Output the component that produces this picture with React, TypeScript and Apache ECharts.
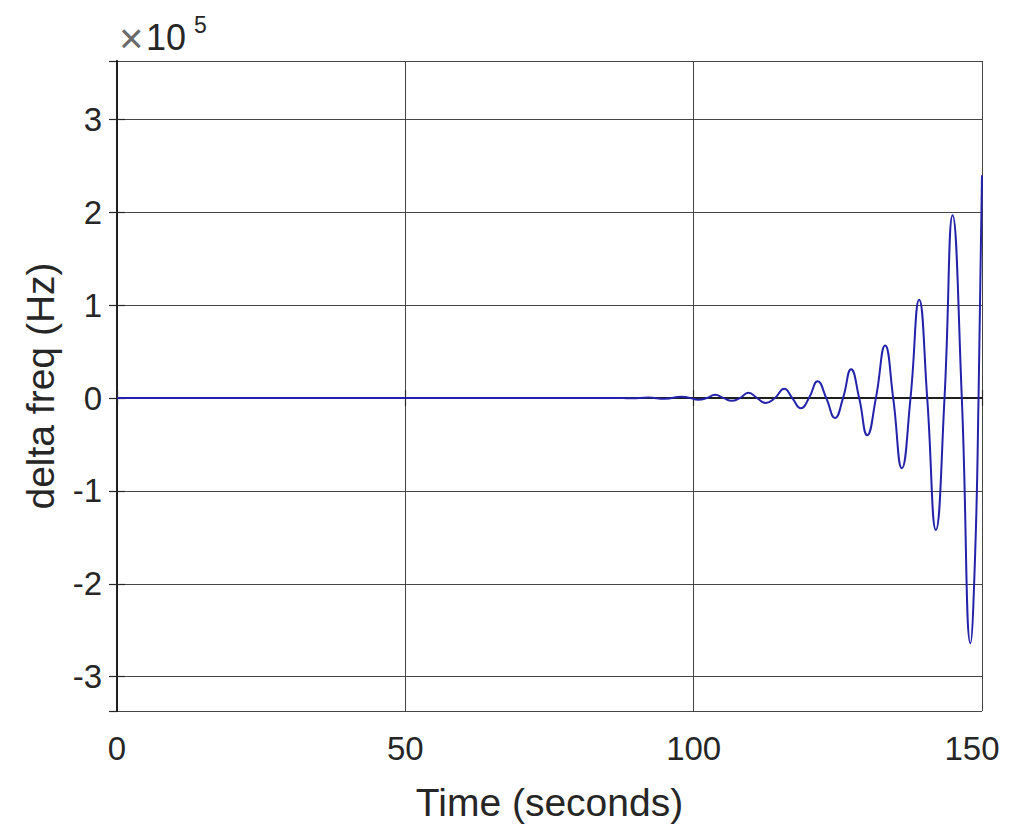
import React, { useEffect, useRef } from "react";
import * as echarts from "echarts";

// Time (seconds) at readable extrema / zero crossings of the trace
const TIME = [
  0, 80, 86.3, 89.2, 92.1, 95.0, 97.9, 99.4, 100.8, 102.3, 103.7, 105.2, 106.6, 108.0,
  109.5, 111.0, 112.5, 114.1, 115.7, 117.1, 118.6, 120.0, 121.5, 123.0, 124.5, 125.9,
  127.3, 128.7, 130.1, 131.6, 133.2, 134.6, 136.1, 137.6, 139.1, 140.5, 142.0, 143.5,
  144.9, 146.5, 148.0, 148.8, 149.4, 150.0,
];

// delta freq (Hz)
const DELTA_HZ = [
  0, 0, 200, -300, 500, -800, 1500, 0, -1800, 0, 3500, 0, -3000, 0,
  5700, 0, -5200, 0, 10000, 0, -11000, 0, 18000, 0, -21500, 0,
  31000, 0, -40000, 0, 56500, 0, -75500, 0, 106000, 0, -142000, 0,
  197000, 0, -264000, -170000, 0, 240000,
];

const X_TICKS = [0, 50, 100, 150];
const Y_RANGE = [-337000, 363000];
const Y_EXPONENT = 5;

const FONT = "'Liberation Sans', Arial, Helvetica, sans-serif";
const TEXT_COLOR = "#262626";

export default function App() {
  const ref = useRef<HTMLDivElement>(null);

  useEffect(() => {
    if (!ref.current) return;
    const chart = echarts.init(ref.current, undefined, { renderer: "svg" });
    const scale = Math.pow(10, Y_EXPONENT);
    const data = TIME.map((t, i) => [t, DELTA_HZ[i]]);
    const lastX = X_TICKS[X_TICKS.length - 1];

    const boxLine = { show: true, lineStyle: { color: "#1e1e1e", width: 1.8 } };
    const grid = { show: true, lineStyle: { color: "#454545", width: 1 } };
    const tick = { show: true, inside: true, length: 8, lineStyle: { color: "#262626", width: 1.2 } };

    chart.setOption({
      animation: false,
      backgroundColor: "#ffffff",
      grid: { left: 117, right: 37, top: 61, bottom: 122, containLabel: false },
      xAxis: [
        {
          type: "value",
          position: "bottom",
          min: X_TICKS[0],
          max: lastX,
          interval: 50,
          axisLine: boxLine,
          axisTick: tick,
          axisLabel: {
            fontSize: 33,
            color: TEXT_COLOR,
            fontFamily: FONT,
            margin: 21,
            formatter: (v: number) => (v === lastX ? `{last|${v}}` : String(v)),
            rich: {
              last: {
                fontSize: 33,
                color: TEXT_COLOR,
                fontFamily: FONT,
                padding: [0, 20, 0, 0],
              },
            },
          },
          splitLine: grid,
          name: "Time (seconds)",
          nameLocation: "middle",
          nameGap: 72,
          nameTextStyle: { fontSize: 39, color: TEXT_COLOR, fontFamily: FONT },
        },
        {
          type: "value",
          position: "top",
          min: X_TICKS[0],
          max: lastX,
          interval: 50,
          axisLine: boxLine,
          axisTick: tick,
          axisLabel: { show: false },
          splitLine: { show: false },
        },
      ],
      yAxis: [
        {
          type: "value",
          position: "left",
          min: Y_RANGE[0],
          max: Y_RANGE[1],
          splitNumber: 7,
          axisLine: boxLine,
          axisTick: tick,
          axisLabel: {
            fontSize: 33,
            color: TEXT_COLOR,
            fontFamily: FONT,
            margin: 15,
            showMinLabel: false,
            showMaxLabel: false,
            formatter: (v: number) => {
              const r = Math.round(v / scale);
              return Math.abs(v / scale - r) < 1e-6 ? String(r) : "";
            },
          },
          splitLine: grid,
          name: "delta freq (Hz)",
          nameLocation: "middle",
          nameGap: 57,
          nameTextStyle: { fontSize: 39, color: TEXT_COLOR, fontFamily: FONT },
        },
        {
          type: "value",
          position: "right",
          min: Y_RANGE[0],
          max: Y_RANGE[1],
          splitNumber: 7,
          axisLine: boxLine,
          axisTick: tick,
          axisLabel: { show: false },
          splitLine: { show: false },
        },
      ],
      graphic: [
        {
          type: "text",
          left: 119,
          top: 17,
          style: { text: "×", fontSize: 42, fill: "#6a6a6a", fontFamily: FONT },
        },
        {
          type: "text",
          left: 146,
          top: 19,
          style: { text: "10", fontSize: 36, fill: TEXT_COLOR, fontFamily: FONT },
        },
        {
          type: "text",
          left: 194,
          top: 13,
          style: { text: String(Y_EXPONENT), fontSize: 23, fill: TEXT_COLOR, fontFamily: FONT },
        },
      ],
      series: [
        {
          type: "line",
          data,
          showSymbol: false,
          smooth: 0.5,
          clip: true,
          lineStyle: { color: "#2222aa", width: 2 },
        },
      ],
    });

    return () => chart.dispose();
  }, []);

  return (
    <div
      ref={ref}
      style={{ position: "fixed", left: 0, top: 0, width: 1019, height: 833, background: "#fff" }}
    />
  );
}
